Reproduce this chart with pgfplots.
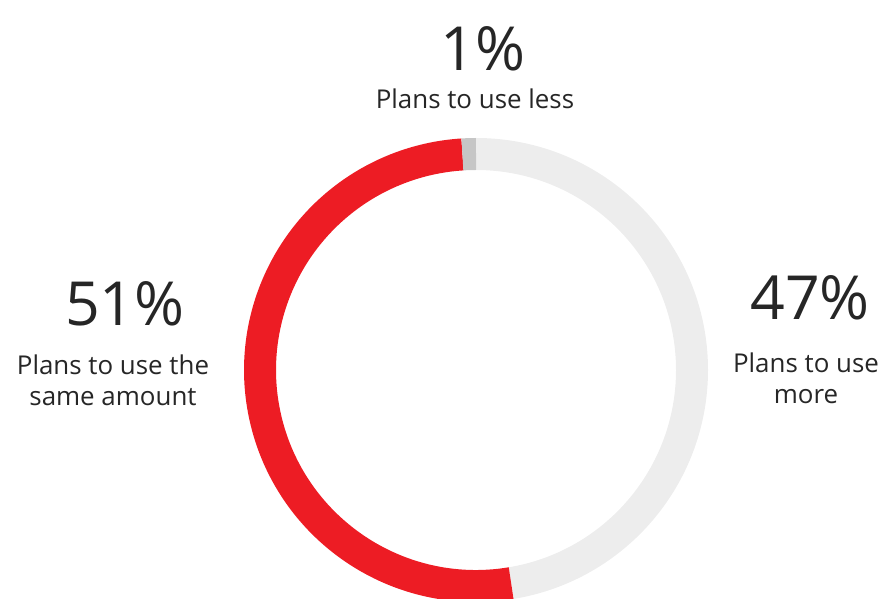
\documentclass[border=0pt]{standalone}
\usepackage{pgfplots}
\usepackage{pgfplotstable}
\pgfplotsset{compat=1.18}
\usepackage{fontspec}
\setmainfont{Open Sans}
\definecolor{cred}{HTML}{ED1C24}
\definecolor{clight}{HTML}{EDEDED}
\definecolor{cgray}{HTML}{C6C6C6}
\definecolor{ctext}{HTML}{262626}
% share (%) drawn clockwise from 12 o'clock
\pgfplotstableread{
label value
more 47.4
same 51.6
less 1.0
}\donutdata
\begin{document}
\begin{tikzpicture}
\pgfplotstablegetelem{0}{value}\of\donutdata \let\vA\pgfplotsretval
\pgfplotstablegetelem{1}{value}\of\donutdata \let\vB\pgfplotsretval
\pgfplotstablegetelem{2}{value}\of\donutdata \let\vC\pgfplotsretval
\pgfmathsetmacro\aA{90}
\pgfmathsetmacro\aB{90-3.6*\vA}
\pgfmathsetmacro\aC{\aB-3.6*\vB}
\pgfmathsetmacro\aD{\aC-3.6*\vC}
\begin{axis}[
  at={(0,0)}, anchor=south west,
  scale only axis, width=882bp, height=599bp,
  xmin=0, xmax=882, ymin=0, ymax=599,
  hide axis, clip=true,
]
\begin{scope}
\clip (axis cs:0,0) rectangle (axis cs:882,599);
\draw[clight, line width=32bp] (axis cs:476,229) ++(\aA:216bp) arc[start angle=\aA, end angle=\aB, radius=216bp];
\draw[cred, line width=32bp] (axis cs:476,229) ++(\aB:216bp) arc[start angle=\aB, end angle=\aC, radius=216bp];
\draw[cgray, line width=32bp] (axis cs:476,229) ++(\aC:216bp) arc[start angle=\aC, end angle=\aD, radius=216bp];
\end{scope}
\node[ctext, font=\fontsize{61}{64}\selectfont] at (axis cs:483,550) {1\%};
\node[ctext, font=\fontsize{26}{31}\selectfont] at (axis cs:475,500) {Plans to use less};
\node[ctext, font=\fontsize{61}{64}\selectfont] at (axis cs:125,295) {51\%};
\node[ctext, align=center, font=\fontsize{26}{31}\selectfont] at (axis cs:113,219) {Plans to use the\\same amount};
\node[ctext, font=\fontsize{61}{64}\selectfont] at (axis cs:810,301) {47\%};
\node[ctext, align=center, font=\fontsize{26}{31}\selectfont] at (axis cs:806,221) {Plans to use\\more};
\end{axis}
\pgfresetboundingbox
\path (0,0) rectangle (882bp,599bp);
\end{tikzpicture}
\end{document}
